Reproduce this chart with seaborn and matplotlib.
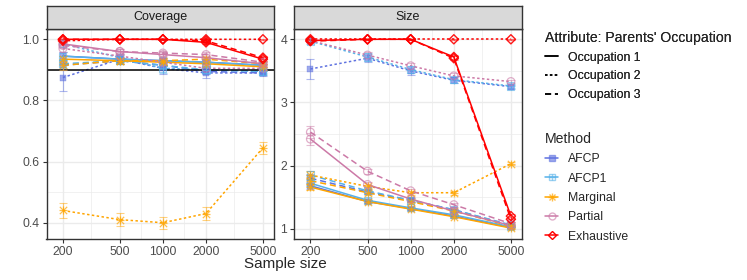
import numpy as np
import pandas as pd
import matplotlib
matplotlib.use("Agg")
import matplotlib.pyplot as plt
from matplotlib.lines import Line2D
import seaborn as sns

# sample sizes and groups
sizes = [200, 500, 1000, 2000, 5000]
occupations = ["Occupation 1", "Occupation 2", "Occupation 3"]
methods = ["AFCP", "AFCP1", "Marginal", "Partial", "Exhaustive"]

# coverage, rows = Occupation 1, 2, 3
cov_afcp = [[0.945, 0.935, 0.930, 0.925, 0.915],
            [0.875, 0.935, 0.905, 0.890, 0.890],
            [0.915, 0.930, 0.915, 0.895, 0.890]]
cov_afcp1 = [[0.945, 0.935, 0.930, 0.925, 0.915],
             [0.985, 0.940, 0.905, 0.900, 0.895],
             [0.920, 0.930, 0.915, 0.900, 0.895]]
cov_marginal = [[0.935, 0.930, 0.925, 0.920, 0.910],
                [0.440, 0.410, 0.400, 0.430, 0.645],
                [0.915, 0.930, 0.930, 0.935, 0.920]]
cov_partial = [[0.985, 0.960, 0.950, 0.940, 0.920],
               [0.970, 0.945, 0.925, 0.905, 0.905],
               [0.980, 0.960, 0.955, 0.950, 0.925]]
cov_exhaustive = [[1.000, 1.000, 1.000, 0.990, 0.935],
                  [0.995, 1.000, 1.000, 1.000, 1.000],
                  [1.000, 1.000, 1.000, 0.995, 0.940]]

# size of prediction sets
size_afcp = [[1.68, 1.43, 1.32, 1.20, 1.02],
             [3.53, 3.70, 3.50, 3.35, 3.25],
             [1.80, 1.58, 1.45, 1.30, 1.05]]
size_afcp1 = [[1.72, 1.45, 1.33, 1.22, 1.03],
              [3.97, 3.72, 3.52, 3.36, 3.26],
              [1.85, 1.60, 1.45, 1.30, 1.06]]
size_marginal = [[1.66, 1.43, 1.31, 1.19, 1.01],
                 [1.85, 1.67, 1.57, 1.57, 2.03],
                 [1.76, 1.57, 1.43, 1.28, 1.04]]
size_partial = [[2.42, 1.70, 1.47, 1.28, 1.05],
                [3.98, 3.75, 3.58, 3.42, 3.33],
                [2.53, 1.91, 1.60, 1.38, 1.08]]
size_exhaustive = [[3.98, 4.00, 4.00, 3.72, 1.20],
                   [4.00, 4.00, 4.00, 4.00, 4.00],
                   [3.97, 4.00, 4.00, 3.70, 1.15]]

# error bar half widths
cov_err_afcp = [[0.012, 0.008, 0.008, 0.007, 0.005],
                [0.045, 0.015, 0.020, 0.018, 0.010],
                [0.015, 0.010, 0.010, 0.008, 0.006]]
cov_err_afcp1 = [[0.012, 0.008, 0.008, 0.007, 0.005],
                 [0.010, 0.012, 0.015, 0.012, 0.008],
                 [0.015, 0.010, 0.010, 0.008, 0.006]]
cov_err_marginal = [[0.012, 0.008, 0.008, 0.007, 0.005],
                    [0.025, 0.022, 0.020, 0.022, 0.020],
                    [0.015, 0.010, 0.010, 0.008, 0.006]]
cov_err_partial = [[0.008, 0.008, 0.007, 0.007, 0.005],
                   [0.012, 0.010, 0.010, 0.010, 0.007],
                   [0.010, 0.008, 0.008, 0.007, 0.005]]
cov_err_exhaustive = [[0.002, 0.001, 0.001, 0.004, 0.006],
                      [0.003, 0.001, 0.001, 0.001, 0.001],
                      [0.002, 0.001, 0.001, 0.004, 0.006]]

size_err_afcp = [[0.05, 0.03, 0.02, 0.02, 0.01],
                 [0.16, 0.06, 0.06, 0.05, 0.03],
                 [0.06, 0.03, 0.03, 0.02, 0.01]]
size_err_afcp1 = [[0.05, 0.03, 0.02, 0.02, 0.01],
                  [0.04, 0.06, 0.05, 0.05, 0.03],
                  [0.06, 0.03, 0.03, 0.02, 0.01]]
size_err_marginal = [[0.05, 0.03, 0.02, 0.02, 0.01],
                     [0.06, 0.03, 0.03, 0.03, 0.02],
                     [0.06, 0.03, 0.03, 0.02, 0.01]]
size_err_partial = [[0.09, 0.04, 0.03, 0.03, 0.02],
                    [0.03, 0.05, 0.05, 0.04, 0.02],
                    [0.10, 0.04, 0.03, 0.03, 0.02]]
size_err_exhaustive = [[0.02, 0.01, 0.01, 0.03, 0.04],
                       [0.01, 0.01, 0.01, 0.01, 0.01],
                       [0.02, 0.01, 0.01, 0.03, 0.04]]

cov_vals = [cov_afcp, cov_afcp1, cov_marginal, cov_partial, cov_exhaustive]
size_vals = [size_afcp, size_afcp1, size_marginal, size_partial, size_exhaustive]
cov_errs = [cov_err_afcp, cov_err_afcp1, cov_err_marginal, cov_err_partial, cov_err_exhaustive]
size_errs = [size_err_afcp, size_err_afcp1, size_err_marginal, size_err_partial, size_err_exhaustive]


def long_table(vals, errs):
    rows = []
    for m, v, e in zip(methods, vals, errs):
        for k, occ in enumerate(occupations):
            for j, n in enumerate(sizes):
                rows.append({"Method": m, "Occupation": occ, "n": n,
                             "value": v[k][j], "err": e[k][j]})
    return pd.DataFrame(rows)


cov_df = long_table(cov_vals, cov_errs)
size_df = long_table(size_vals, size_errs)

palette = {"AFCP": "#5F72E0", "AFCP1": "#56B1E9", "Marginal": "#FFA500",
           "Partial": "#CC79A7", "Exhaustive": "#FF0000"}
dashes = {"Occupation 1": "", "Occupation 2": (1.6, 1.6), "Occupation 3": (4, 2.5)}

sns.set_theme(style="white")
plt.rcParams["font.family"] = ["Liberation Sans", "DejaVu Sans"]

fig = plt.figure(figsize=(7.47, 2.8), dpi=100)
W, H = 747, 280
ax_cov = fig.add_axes([46.5 / W, 1 - 239 / H, (274 - 46.5) / W, 210 / H])
ax_size = fig.add_axes([294 / W, 1 - 239 / H, (522 - 294) / W, 210 / H])


def draw_markers(ax, df):
    for m in methods:
        d = df[df["Method"] == m]
        c = palette[m]
        ax.errorbar(d["n"], d["value"], yerr=d["err"], fmt="none", ecolor=c,
                    alpha=0.5, elinewidth=0.8, capsize=3, capthick=0.8, zorder=3)
        kw = dict(data=d, x="n", y="value", ax=ax, legend=False, zorder=4)
        if m == "AFCP":
            sns.scatterplot(marker="s", s=20, color=c, edgecolor=c, alpha=0.6, **kw)
        elif m == "AFCP1":
            sns.scatterplot(marker="s", s=26, color=c, facecolor="none", edgecolor=c,
                            linewidth=0.8, alpha=0.6, **kw)
            sns.scatterplot(marker="+", s=26, color=c, edgecolor=c, linewidth=0.8, alpha=0.6, **kw)
        elif m == "Marginal":
            sns.scatterplot(marker="+", s=40, color=c, edgecolor=c, linewidth=0.9, alpha=0.7, **kw)
            sns.scatterplot(marker="x", s=28, color=c, edgecolor=c, linewidth=0.9, alpha=0.7, **kw)
        elif m == "Partial":
            sns.scatterplot(marker="o", s=32, color=c, facecolor="none", edgecolor=c,
                            linewidth=0.9, alpha=0.6, **kw)
        else:
            sns.scatterplot(marker="D", s=22, color=c, facecolor="none", edgecolor=c,
                            linewidth=1.0, alpha=0.9, **kw)


for ax, df, title in [(ax_cov, cov_df, "Coverage"), (ax_size, size_df, "Size")]:
    sns.lineplot(data=df, x="n", y="value", hue="Method", style="Occupation",
                 hue_order=methods, style_order=occupations, palette=palette,
                 dashes=dashes, errorbar=None, linewidth=1.1, legend=False,
                 ax=ax, zorder=2)
    draw_markers(ax, df)
    ax.set_xscale("log")
    ax.set_xlim(153.6, 5976)
    ax.set_xticks(sizes)
    ax.set_xticklabels([str(s) for s in sizes])
    ax.xaxis.set_minor_locator(matplotlib.ticker.FixedLocator(
        [np.sqrt(a * b) for a, b in zip(sizes[:-1], sizes[1:])]))
    ax.xaxis.set_minor_formatter(matplotlib.ticker.NullFormatter())
    ax.set_xlabel("")
    ax.set_ylabel("")
    ax.grid(True, which="major", color="#EBEBEB", linewidth=1.0, zorder=0)
    ax.grid(True, which="minor", color="#EBEBEB", linewidth=0.5, zorder=0)
    ax.set_axisbelow(True)
    ax.tick_params(axis="both", which="major", length=3, width=0.8, color="#333333",
                   labelsize=8.8, labelcolor="#4D4D4D", pad=2, left=True, bottom=True)
    ax.tick_params(axis="both", which="minor", length=0)
    for sp in ax.spines.values():
        sp.set_color("#333333")
        sp.set_linewidth(1.0)
    # facet strip
    pos = ax.get_position()
    strip = fig.add_axes([pos.x0, pos.y1, pos.width, 23.5 / H])
    strip.set_facecolor("#D9D9D9")
    strip.set_xticks([])
    strip.set_yticks([])
    for sp in strip.spines.values():
        sp.set_color("#333333")
        sp.set_linewidth(1.0)
    strip.text(0.5, 0.5, title, ha="center", va="center", fontsize=9, color="#1A1A1A")

ax_cov.axhline(0.9, color="black", linewidth=1.1, zorder=2.5)
ax_cov.set_ylim(0.3467, 1.0337)
ax_cov.set_yticks([0.4, 0.6, 0.8, 1.0])
ax_cov.set_yticklabels(["0.4", "0.6", "0.8", "1.0"])
ax_cov.yaxis.set_minor_locator(matplotlib.ticker.FixedLocator([0.5, 0.7, 0.9]))
ax_size.set_ylim(0.837, 4.163)
ax_size.set_yticks([1, 2, 3, 4])
ax_size.set_yticklabels(["1", "2", "3", "4"])
ax_size.yaxis.set_minor_locator(matplotlib.ticker.FixedLocator([1.5, 2.5, 3.5]))

fig.text(285 / W, 1 - 264 / H, "Sample size", ha="center", va="center", fontsize=11)

# legends
occ_handles = [Line2D([], [], color="black", linewidth=1.1, dashes=dashes[o])
               if dashes[o] else Line2D([], [], color="black", linewidth=1.1)
               for o in occupations]
leg1 = fig.legend(occ_handles, occupations, loc="upper left",
                  bbox_to_anchor=(534 / W, 1 - 20 / H), frameon=False,
                  title="Attribute: Parents' Occupation", title_fontsize=10.1,
                  fontsize=8.8, handlelength=1.1, handletextpad=0.75,
                  labelspacing=0.55, alignment="left")

meth_handles = []
for m in methods:
    c = palette[m]
    line = Line2D([], [], color=c, linewidth=1.1)
    if m == "AFCP":
        mk = Line2D([], [], color=c, marker="s", markersize=4, linestyle="none", alpha=0.6)
        meth_handles.append((line, mk))
    elif m == "AFCP1":
        mk1 = Line2D([], [], color=c, marker="s", markersize=5, mfc="none", linestyle="none", alpha=0.6)
        mk2 = Line2D([], [], color=c, marker="+", markersize=5, linestyle="none", alpha=0.6)
        meth_handles.append((line, mk1, mk2))
    elif m == "Marginal":
        mk1 = Line2D([], [], color=c, marker="+", markersize=6, linestyle="none", alpha=0.7)
        mk2 = Line2D([], [], color=c, marker="x", markersize=5, linestyle="none", alpha=0.7)
        meth_handles.append((line, mk1, mk2))
    elif m == "Partial":
        mk = Line2D([], [], color=c, marker="o", markersize=5, mfc="none", linestyle="none", alpha=0.6)
        meth_handles.append((line, mk))
    else:
        mk = Line2D([], [], color=c, marker="D", markersize=4.5, mfc="none", linestyle="none")
        meth_handles.append((line, mk))
fig.legend(meth_handles, methods, loc="upper left",
           bbox_to_anchor=(534 / W, 1 - 121 / H), frameon=False,
           title="Method", title_fontsize=10.1, fontsize=8.8,
           handlelength=1.1, handletextpad=0.75, labelspacing=0.6, alignment="left")
fig.add_artist(leg1)

fig.savefig("out.png", dpi=100)
